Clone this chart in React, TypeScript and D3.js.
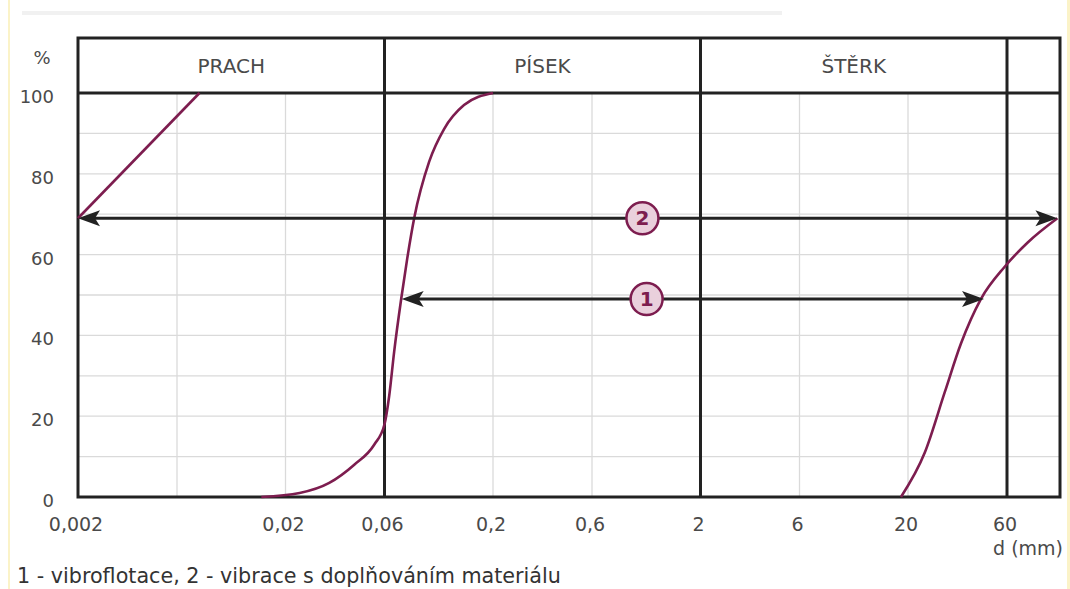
import * as d3 from "d3";

// percent passing ticks and grid
const yTicks = [0, 20, 40, 60, 80, 100];
const yGrid = [10, 20, 30, 40, 50, 60, 70, 80, 90];

// grain size axis (mm)
const xTickValues = [0.002, 0.02, 0.06, 0.2, 0.6, 2, 6, 20, 60];
const xTickLabels = ["0,002", "0,02", "0,06", "0,2", "0,6", "2", "6", "20", "60"];
const xMinorGrid = [0.006, 0.02, 0.2, 0.6, 6, 20];
const zoneBounds = [0.06, 2, 60];
const zoneNames = ["PRACH", "PÍSEK", "ŠTĚRK", ""];

// grading curves: [d mm, % passing]
const curveSilt: [number, number][] = [
  [0.002, 69],
  [0.0077, 100],
];
const curveSand: [number, number][] = [
  [0.0153, 0],
  [0.0234, 1],
  [0.0325, 3.5],
  [0.0429, 8],
  [0.0536, 13],
  [0.06, 18],
  [0.0632, 25],
  [0.0668, 36],
  [0.0722, 49],
  [0.0772, 59],
  [0.0834, 69],
  [0.0985, 83],
  [0.116, 91],
  [0.145, 97],
  [0.2, 100],
];
const curveGravel: [number, number][] = [
  [18.5, 0],
  [24.1, 11],
  [30.1, 26],
  [36, 38],
  [44.9, 49],
  [58.5, 57],
  [75.5, 63],
  [105, 69],
];

// range arrows: 1 - vibroflotace, 2 - vibrace s doplňováním materiálu
const arrowLabels = ["1", "2"];
const arrowLevels = [49, 69];
const arrowFrom = [0.0726, 0.002];
const arrowTo = [46.5, 105];
const arrowLabelAt = [1.1, 1.05];

const W = 1070;
const H = 589;
const LEFT = 78;
const TOP = 38;
const HEAD = 93;
const BOTTOM = 497;

const INK = "#222";
const CURVE = "#7d1d4f";
const TXT = "#4a4a4a";
const FONT = "'DejaVu Sans', Verdana, sans-serif";

export default function App() {
  const x = d3.scaleLog().domain([0.002, 60]).range([LEFT, 1007]);
  const RIGHT = 1060;
  const y = d3.scaleLinear().domain([0, 100]).range([BOTTOM, HEAD]);

  const line = d3
    .line<[number, number]>()
    .x((d) => x(d[0]))
    .y((d) => y(d[1]))
    .curve(d3.curveMonotoneX);

  const bounds = [LEFT, ...zoneBounds.map((b) => x(b)), RIGHT];

  const arrowHead = (tx: number, ty: number, dir: number) => {
    const len = 22;
    const hw = 8;
    return `M${tx},${ty} L${tx + dir * len},${ty - hw} L${tx + dir * (len - 5)},${ty} L${tx + dir * len},${ty + hw} Z`;
  };

  return (
    <svg
      width={W}
      height={H}
      style={{ position: "absolute", left: 0, top: 0, background: "#fff" }}
      fontFamily={FONT}
    >
      <rect x={0} y={0} width={W} height={H} fill="#fff" />
      <rect x={8} y={0} width={2} height={H} fill="#fbf3c8" />
      <rect x={1067} y={0} width={3} height={H} fill="#fbf3c8" />
      <rect x={22} y={11} width={760} height={4} fill="#f1f1f1" />

      {/* light grid */}
      {yGrid.map((v) => (
        <line key={"gy" + v} x1={LEFT} x2={RIGHT} y1={y(v)} y2={y(v)} stroke="#dadada" strokeWidth={1.3} />
      ))}
      {xMinorGrid.map((v) => (
        <line key={"gx" + v} x1={x(v)} x2={x(v)} y1={HEAD} y2={BOTTOM} stroke="#dadada" strokeWidth={1.3} />
      ))}

      {/* frame and zone boundaries */}
      <rect x={LEFT} y={TOP} width={RIGHT - LEFT} height={BOTTOM - TOP} fill="none" stroke={INK} strokeWidth={3} />
      <line x1={LEFT} x2={RIGHT} y1={HEAD} y2={HEAD} stroke={INK} strokeWidth={3} />
      {zoneBounds.map((b) => (
        <line key={"zb" + b} x1={x(b)} x2={x(b)} y1={TOP} y2={BOTTOM} stroke={INK} strokeWidth={3} />
      ))}
      {zoneNames.map((n, i) => (
        <text
          key={"zn" + i}
          x={(bounds[i] + bounds[i + 1]) / 2}
          y={(TOP + HEAD) / 2 + 7}
          textAnchor="middle"
          fontSize={20}
          fill="#4a4a4a"
        >
          {n}
        </text>
      ))}

      {/* y axis labels */}
      <text x={42} y={64} textAnchor="middle" fontSize={18} fill={TXT}>
        %
      </text>
      {yTicks.map((v) => (
        <text key={"yt" + v} x={54} y={y(v) + 10} textAnchor="end" fontSize={18} fill={TXT}>
          {v}
        </text>
      ))}

      {/* x axis labels */}
      {xTickValues.map((v, i) => (
        <text key={"xt" + v} x={x(v) - 2} y={531} textAnchor="middle" fontSize={19} fill={TXT}>
          {xTickLabels[i]}
        </text>
      ))}
      <text x={1063} y={555} textAnchor="end" fontSize={19} fill={TXT}>
        d (mm)
      </text>

      {/* grading curves */}
      {[curveSilt, curveSand, curveGravel].map((c, i) => (
        <path key={"c" + i} d={line(c) ?? ""} fill="none" stroke={CURVE} strokeWidth={2.6} strokeLinejoin="round" />
      ))}

      {/* range arrows */}
      {arrowLabels.map((lab, i) => {
        const yy = y(arrowLevels[i]);
        const x1 = x(arrowFrom[i]);
        const x2 = x(arrowTo[i]);
        const cx = x(arrowLabelAt[i]);
        return (
          <g key={"a" + lab}>
            <line x1={x1 + 10} x2={x2 - 10} y1={yy} y2={yy} stroke={INK} strokeWidth={3} />
            <path d={arrowHead(x1, yy, 1)} fill={INK} />
            <path d={arrowHead(x2, yy, -1)} fill={INK} />
            <circle cx={cx} cy={yy} r={16} fill="#ead0dc" stroke={CURVE} strokeWidth={2.5} />
            <text x={cx} y={yy + 7} textAnchor="middle" fontSize={20} fontWeight="bold" fill={CURVE}>
              {lab}
            </text>
          </g>
        );
      })}

      <text x={17} y={583} fontSize={20.7} fill="#333">
        1 - vibroflotace, 2 - vibrace s doplňováním materiálu
      </text>
    </svg>
  );
}
